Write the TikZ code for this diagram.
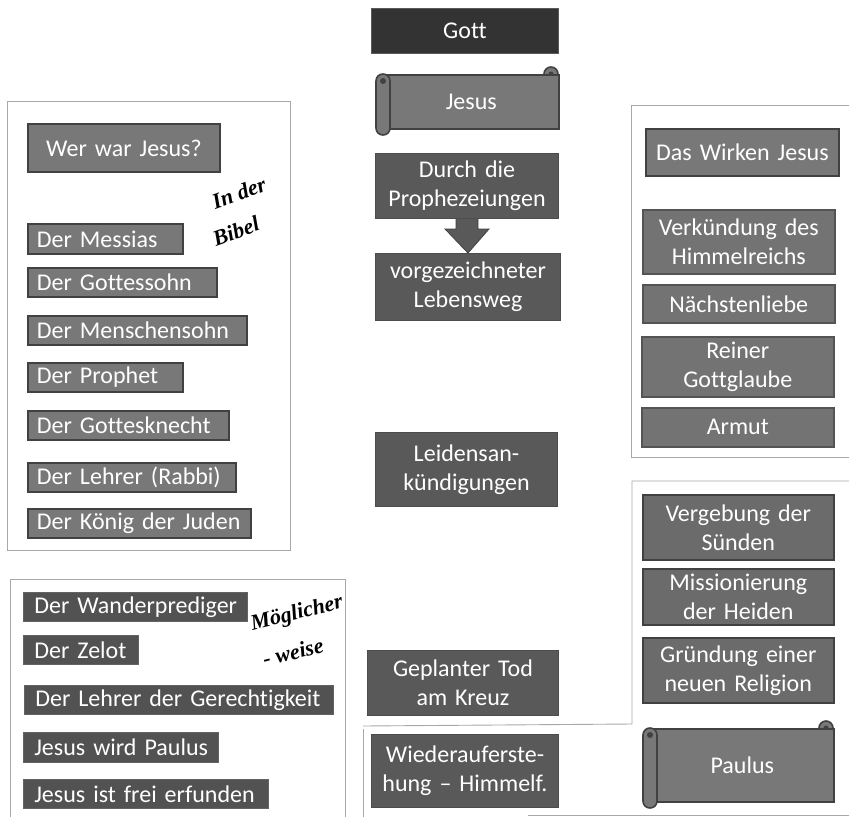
\documentclass[tikz,border=0pt]{standalone}
\usepackage{fontspec}
\setmainfont{Carlito}[Ligatures=NoCommon, WordSpace=0.8]
\newfontfamily\handfont{Liberation Serif}
\pgfdeclarelayer{bg}
\pgfsetlayers{bg,main}
\definecolor{cGott}{HTML}{333333}
\definecolor{cDark}{HTML}{595959}
\definecolor{cMid}{HTML}{787878}
\definecolor{cRight}{HTML}{737373}
\definecolor{cRtwo}{HTML}{6B6B6B}
\definecolor{cLow}{HTML}{525252}
\definecolor{cLine}{HTML}{414141}
\definecolor{cFrame}{HTML}{A8A8A8}
\tikzset{
  base/.style={rectangle, inner ysep=0pt, text=white, font=\fontsize{24}{29}\selectfont},
  gottbox/.style={base, fill=cGott, draw=cDark, line width=1pt, align=center},
  darkbox/.style={base, fill=cDark, draw=cDark!85!black, line width=1pt, align=center},
  midbox/.style={base, fill=cMid, draw=cLine, line width=1.8pt, align=left},
  headbox/.style={base, fill=cMid, draw=cLine, line width=1.8pt, align=center},
  rightbox/.style={base, fill=cRight, draw=cLine!90, line width=1.6pt, align=center},
  rtwobox/.style={base, fill=cRtwo, draw=cLine, line width=1.6pt, align=center},
  lowbox/.style={base, fill=cLow, draw=cLow!90!white, line width=0.6pt, align=left},
  scrollbody/.style={base, fill=cMid, draw=cLine, line width=1.6pt, align=center, inner xsep=0pt},
  scrollpart/.style={fill=cMid, draw=cLine, line width=1.6pt},
  frame/.style={draw=cFrame, line width=0.9pt},
  hand/.style={font=\fontsize{22}{23}\selectfont\handfont\itshape\bfseries, text=black, inner sep=0pt},
  arr/.style={fill=cDark, draw=cLine, line width=0.8pt}
}
% centred box: name, style, x1, y1, x2, y2, xsep, text
\newcommand\bx[8]{%
  \pgfmathsetmacro\bxw{#5-#3-2*#7}\pgfmathsetmacro\bxh{#6-#4}%
  \node[#2, anchor=north west, inner xsep=#7pt, text width=\bxw pt, minimum height=\bxh pt] (#1) at (#3,#4) {#8};}
% left-aligned box: name, style, x1, y1, x2, y2, left pad, text
\newcommand\bxl[8]{%
  \pgfmathsetmacro\bxw{#5-#3}\pgfmathsetmacro\bxh{#6-#4}%
  \node[#2, anchor=north west, inner xsep=0pt, text width=\bxw pt, minimum height=\bxh pt] (#1) at (#3,#4) {\hspace*{#7pt}\mbox{#8}};}
% name, L, T, R, B, text
\newcommand\scrollbox[6]{%
  \filldraw[scrollpart] ({#4-7},{#3+7}) circle[radius=7];
  \fill[cLine] ({#4-7},{#3+7}) circle[radius=2.5];
  \pgfmathsetmacro\sbw{#4-#2-7}\pgfmathsetmacro\sbh{#5-#3-14}%
  \node[scrollbody, anchor=north west, text width=\sbw pt, minimum height=\sbh pt] (#1) at ({#2+7},{#3+7}) {#6};
  \filldraw[scrollpart, rounded corners=6.9pt] (#2,{#3+7}) rectangle ({#2+14},#5);
  \fill[cLine] ({#2+7},{#3+14}) circle[radius=3];
}
\begin{document}
\begin{tikzpicture}[x=1pt,y=-1pt]
\useasboundingbox (0,0) rectangle (849,817);
% frames
\draw[frame] (7,101) rectangle (290,550);
\draw[frame] (10,817) -- (10,579) -- (345,579) -- (345,817);
\draw[frame] (849,105) -- (631,105) -- (631,457) -- (849,457);
\draw[frame] (849,481) -- (632,481) -- (632,724) -- (363,726);
\draw[frame] (363,817) -- (363,729);
\draw[frame] (528,815) -- (849,815);
% centre column
\bx{gott}{gottbox}{371}{8}{558}{53}{2}{Gott}
\scrollbox{jesus}{376}{67}{558}{135}{Jesus}
\bx{durch}{darkbox}{375}{153}{558}{218}{2}{Durch die\\Prophezeiungen}
\bx{vor}{darkbox}{375}{253}{560}{320}{2}{vorgezeichneter\\Lebensweg}
\bx{leid}{darkbox}{375}{432}{557}{506}{2}{Leidensan-\\kündigungen}
\bx{tod}{darkbox}{367}{650}{558}{715}{2}{Geplanter Tod\\am Kreuz}
\bx{wieder}{darkbox}{371}{734}{558}{807}{2}{Wiederauferste-\\hung -- Himmelf.}
\begin{pgfonlayer}{bg}
\filldraw[arr] ([xshift=-11pt,yshift=3pt]durch.south) -- ++(22,0) -- ++(0,13) -- ++(11,0)
  -- (vor.north) -- ([xshift=-22pt,yshift=-10pt]durch.south) -- ++(11,0) -- cycle;
\end{pgfonlayer}
% left: In der Bibel
\bx{wer}{headbox}{27}{123}{219}{171}{2}{Wer war Jesus?}
\bxl{messias}{midbox}{27}{223}{182}{253}{9}{Der Messias}
\bxl{sohn}{midbox}{27}{267}{216}{296}{9}{Der Gottessohn}
\bxl{mensch}{midbox}{27}{315}{246}{344}{9}{Der Menschensohn}
\bxl{prophet}{midbox}{27}{362}{182}{391}{9}{Der Prophet}
\bxl{knecht}{midbox}{27}{410}{228}{439}{9}{Der Gottesknecht}
\bxl{lehrer}{midbox}{27}{462}{235}{491}{9}{Der Lehrer (Rabbi)}
\bxl{koenig}{midbox}{27}{508}{250}{537}{9}{Der König der Juden}
\node[hand, rotate=20] (inder) at (239,193) {In der};
\node[hand, rotate=20] (bibel) at (236,231) {Bibel};
% left: Möglicherweise
\bxl{wander}{lowbox}{23}{592}{247}{621}{11}{Der Wanderprediger}
\bxl{zelot}{lowbox}{23}{635}{138}{664}{11}{Der Zelot}
\bxl{gerecht}{lowbox}{24}{685}{333}{714}{11}{Der Lehrer der Gerechtigkeit}
\bxl{paul}{lowbox}{23}{732}{218}{762}{11}{Jesus wird Paulus}
\bxl{frei}{lowbox}{23}{779}{268}{808}{11}{Jesus ist frei erfunden}
\node[hand, rotate=14] (moegl) at (297,614) {Möglicher};
\node[hand, rotate=14] (weise) at (293,652) {- weise};
% right: Wirken
\bx{wirken}{headbox}{645}{128}{838}{175}{2}{Das Wirken Jesus}
\bx{verk}{rightbox}{642}{209}{834}{273}{2}{Verkündung des\\Himmelreichs}
\bx{naechst}{rightbox}{642}{284}{834}{322}{2}{Nächstenliebe}
\bx{reiner}{rightbox}{641}{336}{833}{396}{2}{Reiner\\Gottglaube}
\bx{armut}{rightbox}{641}{407}{833}{446}{2}{Armut}
% right: Paulus
\bx{vergeb}{rtwobox}{642}{494}{833}{559}{2}{Vergebung der\\Sünden}
\bx{mission}{rtwobox}{642}{568}{833}{624}{2}{Missionierung\\der Heiden}
\bx{gruend}{rtwobox}{642}{637}{833}{702}{2}{Gründung einer\\neuen Religion}
\scrollbox{paulus}{643}{721}{833}{808}{Paulus}
\end{tikzpicture}
\end{document}
